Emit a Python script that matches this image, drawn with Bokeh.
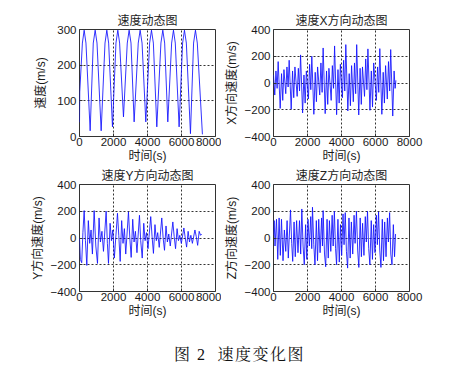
from bokeh.plotting import figure
from bokeh.layouts import column, row
from bokeh.models import Range1d, FixedTicker, Div
from bokeh.embed import file_html
from bokeh.resources import INLINE

# ---------------- data ----------------
x_ticks = [0, 2000, 4000, 6000, 8000]
speed_ticks = [0, 100, 200, 300]
comp_ticks = [-400, -200, 0, 200, 400]

speed_t = [0, 15, 170, 274, 380, 627, 810, 921, 1030, 1274, 1500, 1607, 1715, 1940,
           2145, 2254, 2360, 2587, 2810, 2920, 3030, 3214, 3455, 3567, 3680, 3900,
           4125, 4234, 4345, 4547, 4790, 4900, 5010, 5194, 5420, 5527, 5635, 5860,
           6065, 6174, 6285, 6527, 6710, 6821, 6930, 7230]
speed_v = [40, 125, 262, 298, 262, 16, 262, 298, 262, 16, 262, 298, 262, 27,
           262, 298, 262, 55, 262, 298, 262, 41, 262, 298, 262, 41,
           262, 298, 262, 27, 262, 298, 262, 41, 262, 298, 262, 27,
           262, 298, 262, 8, 262, 298, 262, 6]

vx_t = [0, 74, 144, 214, 274, 394, 474, 544, 614,
        721, 791, 861, 921, 1041, 1121, 1191, 1261,
        1392, 1462, 1532, 1592, 1712, 1792, 1862, 1932,
        2054, 2124, 2194, 2254, 2374, 2454, 2524, 2594,
        2720, 2790, 2860, 2920, 3040, 3120, 3190, 3260,
        3393, 3463, 3533, 3593, 3713, 3793, 3863, 3933,
        4053, 4123, 4193, 4253, 4373, 4453, 4523, 4593,
        4694, 4764, 4834, 4894, 5014, 5094, 5164, 5234,
        5354, 5424, 5494, 5554, 5674, 5754, 5824, 5894,
        6053, 6123, 6193, 6253, 6373, 6453, 6523, 6593,
        6694, 6764, 6834, 6894, 7014, 7094, 7154, 7200]
vx_v = [60, -90, 90, -40, 160, -190, 70, -130, 100,
        -80, 120, -30, 170, -196, 90, -110, 120,
        -100, 110, -60, 210, -224, 60, -150, 90,
        -120, 140, -50, 200, -234, 80, -140, 120,
        -90, 150, -70, 262, -229, 90, -160, 110,
        -130, 130, -40, 277, -237, 100, -150, 140,
        -110, 170, -60, 287, -209, 70, -170, 130,
        -140, 150, -80, 287, -239, 110, -160, 120,
        -100, 180, -50, 255, -204, 90, -180, 150,
        -130, 120, -70, 257, -234, 80, -150, 130,
        -120, 160, -60, 250, -247, 90, -40, 20]

vy_t = [0, 50, 130, 200, 274, 350, 431, 520, 600, 680, 760, 862, 960, 1058, 1150,
        1230, 1320, 1410, 1568, 1640, 1705, 1800, 1880, 1960, 2050, 2234, 2310,
        2393, 2480, 2560, 2640, 2720, 2880, 2960, 3040, 3130, 3210, 3290, 3380,
        3528, 3600, 3690, 3780, 3860, 3940, 4030, 4190, 4270, 4350, 4440, 4520,
        4600, 4690, 4840, 4920, 5000, 5090, 5170, 5250, 5340, 5490, 5570, 5650,
        5740, 5820, 5900, 5990, 6140, 6220, 6300, 6390, 6470, 6550, 6640, 6790,
        6870, 6950, 7040, 7120, 7190]
vy_v = [0, -160, -185, 40, 205, -20, -205, 130, -40, 60, -120, 205, -60, -190, 150,
        -30, 50, -100, 200, -40, -190, 110, -20, 60, -150, 185, 20,
        -175, 130, -40, 70, -120, 195, 0, -145, 140, -30, 50, -110,
        170, -20, -150, 110, -20, 40, -80, 160, 10, -115, 100, -20,
        40, -70, 150, 0, -92, 90, -30, 30, -60, 120, 10, -80,
        70, -20, 20, -40, 75, 0, -68, 50, -30, 20, -40, 60,
        10, -55, 50, 20, 30]

vz_t = [0, 40, 90, 176, 250, 330, 400, 470, 560, 640, 720, 800, 870, 1000, 1070,
        1130, 1210, 1280, 1360, 1440, 1530, 1600, 1666, 1740, 1810, 1890, 1960,
        2030, 2110, 2190, 2250, 2293, 2370, 2440, 2520, 2590, 2660, 2740, 2830,
        2880, 2920, 3000, 3070, 3150, 3220, 3290, 3370, 3450, 3510, 3580, 3650,
        3710, 3790, 3870, 3940, 4010, 4090, 4150, 4220, 4290, 4360, 4440, 4510,
        4580, 4660, 4740, 4800, 4880, 4950, 5020, 5100, 5170, 5240, 5320, 5400,
        5460, 5530, 5600, 5670, 5750, 5820, 5890, 5970, 6050, 6110, 6180, 6250,
        6320, 6400, 6470, 6540, 6620, 6700, 6760, 6830, 6900, 6970, 7050, 7120, 7180]
vz_v = [20, 130, -60, 140, -160, 150, -130, 140, -170, 60, -100, 130, -150, 210, -40,
        -175, 120, -140, 130, -110, 130, -120, 217, -60, -200, 100, -160,
        140, -60, 160, -80, 230, -50, -200, 130, -170, 140, -110, 150,
        -60, 205, -120, -215, 140, -150, 130, -100, 170, -60, 200, -80,
        -200, 140, -180, 100, -130, 180, -50, 190, -100, -225, 150, -150,
        120, -120, 170, -40, 200, -90, -220, 150, -140, 110, -130, 160,
        -30, 200, -80, -200, 130, -160, 100, -110, 170, -50, 195, -90,
        -220, 140, -170, 120, -140, 150, -30, 190, -120, -200, 100, -140, 30]

TXT = "'Liberation Sans', 'Noto Sans CJK SC', sans-serif"
NUM = "'Liberation Sans', Arial, sans-serif"


def make_fig(title, ylabel, yrange, yticks, t, v, left, right, top, bottom, ylab_standoff):
    p = figure(frame_width=136, frame_height=107, output_backend="svg",
               toolbar_location=None, x_range=Range1d(0, 8000),
               y_range=Range1d(*yrange), title=title,
               min_border_left=left, min_border_right=right,
               min_border_top=top, min_border_bottom=bottom)
    p.line(t, v, line_color="#1010ff", line_width=1, line_alpha=0.85)
    p.title.text_font = TXT
    p.title.text_font_size = "12px"
    p.title.text_font_style = "normal"
    p.title.text_color = "#222222"
    p.title.align = "center"
    p.title.standoff = 3
    p.outline_line_color = "#333333"
    p.outline_line_alpha = 1
    p.background_fill_color = "white"
    p.border_fill_color = "white"
    p.xaxis.ticker = FixedTicker(ticks=x_ticks)
    p.yaxis.ticker = FixedTicker(ticks=yticks)
    p.xaxis.axis_label = "时间(s)"
    p.yaxis.axis_label = ylabel
    for ax in (p.xaxis, p.yaxis):
        ax.axis_line_color = None
        ax.major_tick_in = 3
        ax.major_tick_out = 0
        ax.major_tick_line_color = "#333333"
        ax.minor_tick_line_color = None
        ax.major_label_text_font = NUM
        ax.major_label_text_font_size = "11.5px"
        ax.major_label_text_color = "#1a1a1a"
        ax.major_label_standoff = 3
        ax.axis_label_text_font = TXT
        ax.axis_label_text_font_size = "12px"
        ax.axis_label_text_font_style = "normal"
        ax.axis_label_text_color = "#1a1a1a"
    p.xaxis.major_label_standoff = 1
    p.xaxis.axis_label_standoff = 0
    p.yaxis.axis_label_standoff = ylab_standoff
    for g in (p.xgrid, p.ygrid):
        g.grid_line_color = "#000000"
        g.grid_line_dash = "2 2"
        g.grid_line_width = 1
        g.grid_line_alpha = 0.8
    return p


p1 = make_fig("速度动态图", "速度(m/s)", (0, 300), speed_ticks, speed_t, speed_v,
              79, 6, 29, 0, 6)
p2 = make_fig("速度X方向动态图", "X方向速度(m/s)", (-400, 400), comp_ticks, vx_t, vx_v,
              50, 20, 29, 0, 3)
p3 = make_fig("速度Y方向动态图", "Y方向速度(m/s)", (-400, 400), comp_ticks, vy_t, vy_v,
              79, 6, 15, 0, 3)
p4 = make_fig("速度Z方向动态图", "Z方向速度(m/s)", (-400, 400), comp_ticks, vz_t, vz_v,
              50, 20, 15, 0, 3)

caption = Div(text="图 2&nbsp;&nbsp;速度变化图", width=417, height=50,
              styles={"font-family": "'Liberation Serif', 'Noto Serif CJK SC', 'Noto Sans CJK SC', serif",
                      "font-size": "16px", "letter-spacing": "1.5px", "color": "#111",
                      "text-align": "center",
                      "padding-left": "52px", "padding-top": "19px",
                      "box-sizing": "border-box", "width": "417px"})

layout = column(row(p1, p2), row(p3, p4), caption)

open("out.html", "w").write(file_html(layout, INLINE))
